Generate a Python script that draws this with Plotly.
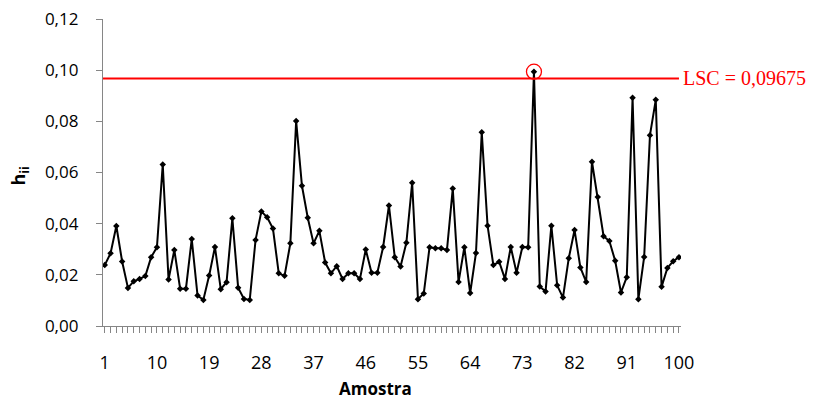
import plotly.graph_objects as go

amostra = list(range(1, 101))
hii = [
    0.0238, 0.0284, 0.0391, 0.0252, 0.0149, 0.0175, 0.0184, 0.0195, 0.0269, 0.0308,
    0.0631, 0.0182, 0.0297, 0.0146, 0.0146, 0.0340, 0.0119, 0.0102, 0.0197, 0.0309,
    0.0144, 0.0171, 0.0421, 0.0150, 0.0106, 0.0102, 0.0336, 0.0448, 0.0425, 0.0381,
    0.0206, 0.0196, 0.0323, 0.0801, 0.0548, 0.0423, 0.0323, 0.0372, 0.0248, 0.0206,
    0.0234, 0.0184, 0.0206, 0.0206, 0.0184, 0.0299, 0.0208, 0.0208, 0.0309, 0.0471,
    0.0269, 0.0233, 0.0325, 0.0560, 0.0105, 0.0127, 0.0308, 0.0304, 0.0304, 0.0297,
    0.0537, 0.0172, 0.0308, 0.0129, 0.0285, 0.0757, 0.0392, 0.0238, 0.0251, 0.0184,
    0.0309, 0.0208, 0.0309, 0.0308, 0.0994, 0.0154, 0.0135, 0.0392, 0.0159, 0.0111,
    0.0265, 0.0375, 0.0229, 0.0172, 0.0642, 0.0504, 0.0351, 0.0332, 0.0255, 0.0131,
    0.0191, 0.0892, 0.0105, 0.0270, 0.0746, 0.0884, 0.0153, 0.0227, 0.0253, 0.0269,
]
lsc = 0.09675
lsc_label = "LSC = 0,09675"
outlier_idx = [75]
x_tickvals = list(range(1, 101, 9))
y_tickvals = [0.0, 0.02, 0.04, 0.06, 0.08, 0.10, 0.12]

AXIS = "#868686"
FONT = "Open Sans"

fig = go.Figure()
fig.add_trace(go.Scatter(
    x=amostra, y=hii, mode="lines+markers",
    line=dict(color="black", width=2),
    marker=dict(symbol="diamond", size=5, color="black"),
    showlegend=False, hoverinfo="x+y",
))
fig.add_trace(go.Scatter(
    x=outlier_idx, y=[hii[i - 1] for i in outlier_idx], mode="markers",
    marker=dict(symbol="circle-open", size=15, color="red", line=dict(width=1.3, color="red")),
    showlegend=False,
))
fig.add_shape(type="line", xref="x", yref="y", x0=0.7, x1=100, y0=lsc, y1=lsc,
              line=dict(color="red", width=2))
fig.add_annotation(x=100, y=lsc, xref="x", yref="y", text=lsc_label, showarrow=False,
                   xanchor="left", yanchor="middle", xshift=2,
                   font=dict(family="Liberation Serif", size=20, color="red"))
fig.add_annotation(x=0.4706, y=-0.205, xref="paper", yref="paper", text="<b>Amostra</b>",
                   showarrow=False, xanchor="center", yanchor="middle",
                   font=dict(family=FONT, size=17, color="black"))
fig.add_annotation(x=-0.1436, y=0.49, xref="paper", yref="paper", text="<b>h<sub>ii</sub></b>",
                   showarrow=False, xanchor="center", yanchor="middle", textangle=-90,
                   font=dict(family=FONT, size=18, color="black"))

fig.update_layout(
    width=808, height=393,
    margin=dict(l=95, r=135, t=11, b=75),
    paper_bgcolor="white", plot_bgcolor="white",
    separators=",.",
    font=dict(family=FONT, size=18, color="black"),
)
fig.update_xaxes(
    range=[0.7, 100.35], tickvals=x_tickvals, ticktext=[str(v) for v in x_tickvals],
    showline=True, linecolor=AXIS, linewidth=1.3, showgrid=False, zeroline=False,
    ticks="outside", ticklen=6, tickcolor=AXIS, tickwidth=1,
    minor=dict(dtick=1, tick0=1, ticks="outside", ticklen=6, tickcolor=AXIS, tickwidth=1, showgrid=False),
    ticklabelstandoff=14, ticklabeloverflow="allow", automargin=False,
    tickfont=dict(family=FONT, size=18),
)
fig.update_yaxes(
    range=[0, 0.12], tickvals=y_tickvals, tickformat=".2f",
    showline=True, linecolor=AXIS, linewidth=1.3, showgrid=False, zeroline=False,
    ticks="outside", ticklen=6, tickcolor=AXIS, tickwidth=1,
    ticklabelstandoff=14, ticklabeloverflow="allow", automargin=False,
    tickfont=dict(family=FONT, size=17),
)
fig.write_html("out.html")
